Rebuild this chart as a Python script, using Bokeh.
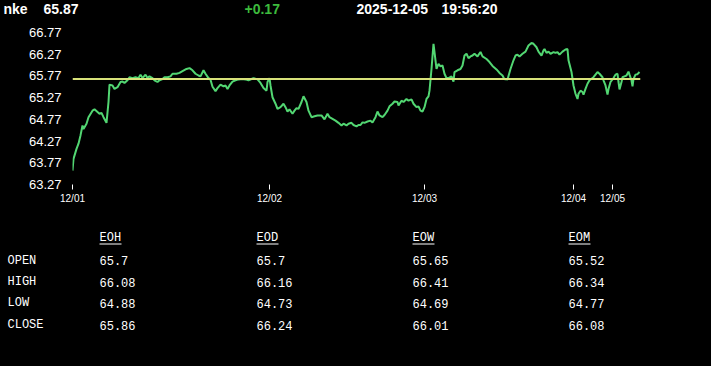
from bokeh.plotting import figure
from bokeh.layouts import column
from bokeh.models import Range1d, FixedTicker, Span, PrintfTickFormatter
from bokeh.core.properties import value
from bokeh.embed import file_html
from bokeh.resources import INLINE

# ---- data ----
symbol = "nke"
last_price = "65.87"
change = "+0.17"
date_str = "2025-12-05"
time_str = "19:56:20"
ref_price = 65.7

bars = [0, 1, 4, 6, 8, 10, 11, 14, 16, 20, 22, 25, 27, 29, 31, 34, 36, 37, 40, 42, 45, 48, 50, 52, 55, 57, 60, 63, 66, 68,
        70, 73, 75, 77, 80, 82, 85, 87, 90, 92, 95, 98, 100, 104, 107, 110, 114, 117, 120, 123, 126, 128, 131, 133, 136, 138, 140, 143,
        145, 148, 151, 153, 155, 157, 160, 163, 166, 170, 173, 176, 179, 181, 185, 188, 191, 194, 195, 197, 198, 200, 203, 205, 208, 211,
        213, 215, 217, 220, 222, 224, 226, 229, 231, 234, 236, 239, 242, 245, 249, 252, 255, 257, 260, 263, 266, 269, 271, 274, 276, 279,
        281, 284, 286, 288, 290, 292, 295, 298, 300, 303, 305, 307, 310, 312, 315, 317, 320, 322, 325, 326, 329, 331, 334, 336, 339, 341,
        344, 346, 348, 350, 352, 354, 356, 357, 359, 361, 362, 364, 366, 368, 370, 372, 374, 376, 379, 381, 382, 385, 388, 390, 392, 394,
        396, 398, 400, 402, 405, 408, 410, 414, 417, 420, 424, 427, 430, 432, 433, 435, 438, 441, 443, 445, 447, 450, 453, 456, 459, 461,
        464, 466, 469, 471, 472, 474, 476, 478, 481, 483, 485, 487, 490, 493, 495, 496, 499, 501, 503, 505, 506, 508, 510, 511, 513, 515,
        517, 521, 525, 527, 530, 531, 533, 535, 536, 538, 541, 543, 545, 546, 547, 549, 550, 552, 554, 556, 557, 559, 560, 561, 563, 565, 567]
prices = [63.59, 63.86, 64.09, 64.21, 64.40, 64.63, 64.55, 64.67, 64.82, 64.97, 65.00, 64.94, 64.90, 64.92, 64.82, 64.69, 65.17, 65.57, 65.55, 65.47,
          65.51, 65.63, 65.64, 65.61, 65.67, 65.74, 65.72, 65.74, 65.72, 65.80, 65.72, 65.80, 65.72, 65.76, 65.72, 65.67, 65.63, 65.67, 65.70, 65.74,
          65.74, 65.76, 65.82, 65.82, 65.84, 65.88, 65.93, 65.95, 65.90, 65.82, 65.78, 65.76, 65.90, 65.82, 65.72, 65.68, 65.52, 65.42,
          65.49, 65.57, 65.53, 65.55, 65.47, 65.55, 65.64, 65.67, 65.69, 65.70, 65.69, 65.67, 65.70, 65.72, 65.69, 65.61, 65.49, 65.43, 65.63, 65.72,
          65.55, 65.28, 65.13, 65.01, 65.05, 65.13, 65.05, 64.95, 65.00, 64.90, 64.97, 65.03, 65.01, 65.17, 65.30, 65.17, 64.97, 64.82, 64.84, 64.86,
          64.86, 64.77, 64.90, 64.82, 64.78, 64.74, 64.69, 64.63, 64.67, 64.63, 64.67, 64.69, 64.64, 64.61, 64.64, 64.64, 64.70, 64.69, 64.72, 64.74,
          64.70, 64.82, 64.95, 64.86, 64.82, 64.87, 64.97, 65.07, 65.13, 65.18, 65.17, 65.09, 65.20, 65.17, 65.24, 65.20, 65.23, 65.13, 65.05, 65.07,
          64.97, 64.95, 65.05, 65.24, 65.30, 65.43, 65.93, 66.51, 66.32, 65.93, 66.05, 65.99, 66.01, 65.82, 65.72, 65.72, 65.76, 65.64, 65.86, 65.90,
          65.93, 66.01, 66.24, 66.28, 66.18, 66.22, 66.24, 66.28, 66.22, 66.32, 66.22, 66.16, 66.09, 66.00, 65.92, 65.84, 65.78, 65.69, 65.70, 65.69,
          65.93, 66.13, 66.24, 66.26, 66.22, 66.28, 66.33, 66.47, 66.53, 66.51, 66.43, 66.33, 66.24, 66.36, 66.39, 66.30, 66.33, 66.28, 66.32, 66.30,
          66.32, 66.26, 66.33, 66.38, 66.39, 66.13, 65.86, 65.55, 65.36, 65.24, 65.36, 65.43, 65.40, 65.34, 65.47, 65.59, 65.67, 65.74, 65.86, 65.82,
          65.74, 65.67, 65.55, 65.34, 65.47, 65.63, 65.72, 65.80, 65.82, 65.63, 65.46, 65.63, 65.74, 65.76, 65.78, 65.87, 65.80, 65.67, 65.53, 65.70,
          65.80, 65.81, 65.86]

day_ticks = [0, 197, 352, 501, 540]
day_labels = ["12/01", "12/02", "12/03", "12/04", "12/05"]
y_ticks = [63.27, 63.77, 64.27, 64.77, 65.27, 65.77, 66.27, 66.77]

row_names = ["OPEN", "HIGH", "LOW", "CLOSE"]
col_names = ["EOH", "EOD", "EOW", "EOM"]
eoh = [65.7, 66.08, 64.88, 65.86]
eod = [65.7, 66.16, 64.73, 66.24]
eow = [65.65, 66.41, 64.69, 66.01]
eom = [65.52, 66.34, 64.77, 66.08]
table_cols = [eoh, eod, eow, eom]

W = 711
BLACK = {"background-color": "black"}


def text_panel(h):
    f = figure(width=W, height=h, output_backend="svg", toolbar_location=None,
               x_range=Range1d(0, W), y_range=Range1d(h, 0),
               x_axis_type=None, y_axis_type=None,
               min_border=0, min_border_left=0, min_border_right=0,
               min_border_top=0, min_border_bottom=0,
               outline_line_color=None, frame_align=False, styles=BLACK)
    f.background_fill_color = "black"
    f.border_fill_color = None
    f.grid.visible = False
    return f


# ---- header ----
hdr = text_panel(22)
hdr.text(x=[3, 43, 356, 441], y=[8.5] * 4, text=[symbol, last_price, date_str, time_str],
         text_color="white", text_font=value("Liberation Sans"), text_font_size="14px",
         text_font_style="bold", text_baseline="middle")
hdr.text(x=[244], y=[8.5], text=[change], text_color="#3dbb3d", text_font=value("Liberation Sans"),
         text_font_size="14px", text_font_style="bold", text_baseline="middle")

# ---- chart ----
p = figure(width=W, height=188, output_backend="svg", toolbar_location=None,
           x_range=Range1d(0, 568), y_range=Range1d(63.27, 66.77),
           min_border_left=72, min_border_right=71, min_border_top=10, min_border_bottom=26,
           outline_line_color=None, frame_align=False, styles=BLACK)
p.background_fill_color = "black"
p.border_fill_color = None
p.grid.visible = False

p.line(bars, prices, line_color="#52d672", line_width=2)
p.add_layout(Span(location=ref_price, dimension="width", line_color="#d8e27a", line_width=2))

ya = p.yaxis[0]
ya.ticker = FixedTicker(ticks=y_ticks)
ya.formatter = PrintfTickFormatter(format="%.2f")
ya.axis_line_color = None
ya.major_tick_line_color = None
ya.minor_tick_line_color = None
ya.major_tick_out = 0
ya.major_tick_in = 0
ya.minor_tick_out = 0
ya.major_label_text_color = "white"
ya.major_label_text_font = "Liberation Sans"
ya.major_label_text_font_size = "13px"
ya.major_label_standoff = 11

xa = p.xaxis[0]
xa.ticker = FixedTicker(ticks=day_ticks)
xa.major_label_overrides = {t: l for t, l in zip(day_ticks, day_labels)}
xa.axis_line_color = None
xa.minor_tick_line_color = None
xa.major_tick_line_color = "white"
xa.major_tick_in = 0
xa.major_tick_out = 5
xa.major_label_text_color = "white"
xa.major_label_text_font = "Liberation Sans"
xa.major_label_text_font_size = "10px"
xa.major_label_standoff = 3

# ---- table ----
tbl = text_panel(156)
mono = value("Liberation Mono")
fs = "12px"
col_x = [99, 256, 412, 568]
row_y = [50, 71.5, 92.5, 114.5]
tbl.text(x=col_x, y=[27.5] * 4, text=col_names, text_color="white", text_font=mono,
         text_font_size=fs, text_baseline="middle")
tbl.segment(x0=col_x, y0=[33.5] * 4, x1=[c + 22 for c in col_x], y1=[33.5] * 4,
            line_color="white", line_width=1)
tbl.text(x=[7] * 4, y=row_y, text=row_names, text_color="white", text_font=mono,
         text_font_size=fs, text_baseline="middle")
for vals, cx in zip(table_cols, col_x):
    tbl.text(x=[cx] * 4, y=row_y, text=[str(v) for v in vals], text_color="white",
             text_font=mono, text_font_size=fs, text_baseline="middle")

layout = column(hdr, p, tbl, spacing=0, styles=BLACK)
open("out.html", "w").write(file_html(layout, INLINE))
